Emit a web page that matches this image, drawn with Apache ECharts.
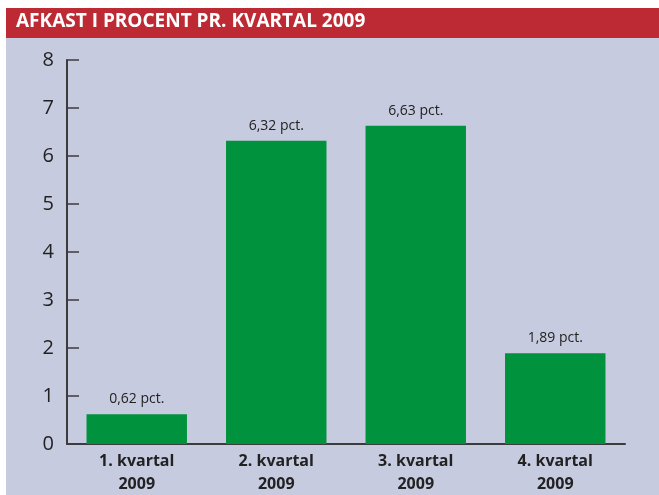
<!DOCTYPE html>
<html>
<head>
    <meta charset="utf-8">
    <title>Afkast i procent</title>
    <script src="https://cdn.jsdelivr.net/npm/echarts@6/dist/echarts.min.js"></script>
    <style>
        html, body { margin: 0; padding: 0; background: #fff; }
        #chart { width: 659px; height: 495px; }
    </style>
</head>
<body>
<div id="chart"></div>
<script type="text/javascript">
    // data
    var categories = ['1. kvartal\n2009', '2. kvartal\n2009', '3. kvartal\n2009', '4. kvartal\n2009'];
    var values = [0.62, 6.32, 6.63, 1.89];
    var valueLabels = ['0,62 pct.', '6,32 pct.', '6,63 pct.', '1,89 pct.'];

    var myChart = echarts.init(document.getElementById('chart'));

    var option = {
        animation: false,
        graphic: [
            { type: 'rect', left: 6, top: 8, shape: { width: 653, height: 487 }, style: { fill: '#c7cbdf' }, z: -10 },
            { type: 'rect', left: 6, top: 8, shape: { width: 653, height: 30 }, style: { fill: '#bd2a34' }, z: -9 },
            {
                type: 'text', left: 16, top: 12,
                style: { text: 'AFKAST I PROCENT PR. KVARTAL 2009', fill: '#fff', font: 'bold 19px "Open Sans", sans-serif' }
            }
        ],
        grid: { left: 67, right: 34, top: 60, bottom: 51, outerBoundsMode: 'none' },
        xAxis: {
            type: 'category',
            data: categories,
            axisLine: { lineStyle: { color: '#3c3c3c', width: 2 } },
            axisTick: { inside: true, length: 10, lineStyle: { color: '#3c3c3c', width: 1.5 } },
            axisLabel: {
                color: '#222', fontWeight: 'bold', fontSize: 16, lineHeight: 23,
                fontFamily: '"Open Sans", sans-serif', margin: 6
            }
        },
        yAxis: {
            type: 'value',
            min: 0, max: 8, interval: 1,
            splitLine: { show: false },
            axisLine: { show: true, lineStyle: { color: '#3c3c3c', width: 2 } },
            axisTick: { show: true, inside: true, length: 12, lineStyle: { color: '#3c3c3c', width: 1.5 } },
            axisLabel: { color: '#222', fontSize: 20, fontFamily: '"Open Sans", sans-serif', margin: 13 }
        },
        series: [{
            type: 'bar',
            data: values,
            barWidth: '72%',
            itemStyle: { color: '#00923d' },
            label: {
                show: true, position: 'top', distance: 8,
                color: '#222', fontSize: 14, fontFamily: '"Open Sans", sans-serif',
                formatter: function (p) { return valueLabels[p.dataIndex]; }
            }
        }]
    };

    myChart.setOption(option);
</script>
</body>
</html>
